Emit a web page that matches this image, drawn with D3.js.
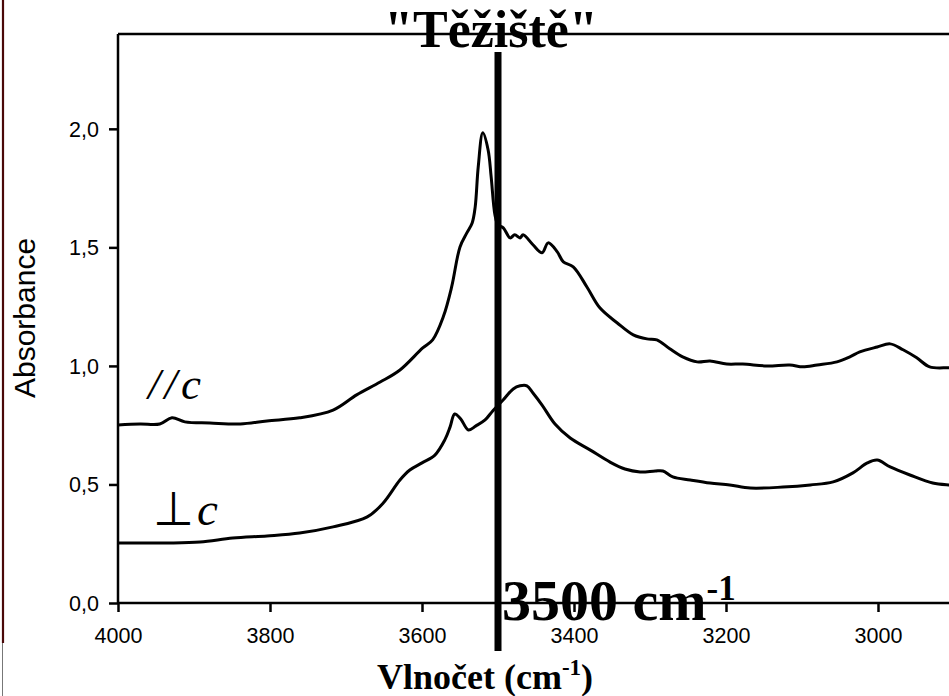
<!DOCTYPE html>
<html>
<head>
<meta charset="utf-8">
<script src="https://cdn.jsdelivr.net/npm/d3@7"></script>
<style>
  html, body { margin: 0; padding: 0; background: #fff; }
  svg { display: block; }
</style>
</head>
<body>
<svg id="chart" width="949" height="696"></svg>
<script>
// IR absorbance spectra of the OH-stretching region, polarised parallel and perpendicular to c
const wavenumberPar = [4000, 3971, 3945, 3929, 3912, 3879, 3839, 3804, 3761, 3717, 3686, 3655, 3629, 3599, 3586, 3572, 3561, 3550, 3541, 3534, 3530, 3526, 3520, 3513, 3509, 3504, 3500, 3493, 3484, 3478, 3471, 3467, 3454, 3442, 3434, 3422, 3414, 3401, 3383, 3366, 3343, 3322, 3304, 3291, 3274, 3257, 3238, 3221, 3199, 3178, 3146, 3116, 3099, 3080, 3054, 3037, 3024, 3001, 2984, 2967, 2949, 2932, 2907, 2900];
const absorbancePar = [0.751, 0.755, 0.755, 0.781, 0.764, 0.759, 0.755, 0.768, 0.781, 0.814, 0.878, 0.932, 0.983, 1.076, 1.110, 1.207, 1.333, 1.502, 1.561, 1.603, 1.671, 1.840, 1.983, 1.911, 1.797, 1.637, 1.595, 1.582, 1.540, 1.553, 1.540, 1.553, 1.511, 1.477, 1.519, 1.481, 1.439, 1.418, 1.333, 1.245, 1.181, 1.131, 1.114, 1.110, 1.072, 1.038, 1.017, 1.021, 1.008, 1.008, 1.000, 1.004, 0.996, 1.004, 1.017, 1.038, 1.059, 1.080, 1.093, 1.068, 1.034, 0.996, 0.992, 0.990];

const wavenumberPerp = [4000, 3936, 3892, 3849, 3804, 3761, 3717, 3672, 3651, 3629, 3616, 3600, 3583, 3570, 3563, 3557, 3549, 3539, 3529, 3517, 3507, 3493, 3480, 3471, 3462, 3454, 3442, 3425, 3405, 3379, 3353, 3333, 3313, 3293, 3283, 3270, 3247, 3221, 3195, 3168, 3125, 3089, 3059, 3033, 3014, 3001, 2984, 2958, 2928, 2907, 2900];
const absorbancePerp = [0.253, 0.253, 0.257, 0.274, 0.283, 0.295, 0.321, 0.363, 0.422, 0.519, 0.561, 0.591, 0.624, 0.688, 0.743, 0.797, 0.776, 0.730, 0.747, 0.772, 0.810, 0.857, 0.903, 0.916, 0.916, 0.886, 0.835, 0.755, 0.696, 0.646, 0.595, 0.565, 0.553, 0.557, 0.557, 0.532, 0.519, 0.506, 0.498, 0.485, 0.489, 0.498, 0.511, 0.549, 0.591, 0.603, 0.574, 0.540, 0.506, 0.498, 0.497];

const xTickValues = [4000, 3800, 3600, 3400, 3200, 3000];
const yTickValues = [0, 0.5, 1.0, 1.5, 2.0];
const yTickLabels = ["0,0", "0,5", "1,0", "1,5", "2,0"];
const centroidWavenumber = 3500;

const svg = d3.select("#chart");
const plot = { left: 118, right: 954, top: 34, bottom: 603 };

const x = d3.scaleLinear().domain([4000, 2900]).range([plot.left, plot.right]);
const y = d3.scaleLinear().domain([0, 2.4]).range([plot.bottom, plot.top]);

// page edge rule on the left
svg.append("line").attr("x1", 3).attr("x2", 3).attr("y1", 0).attr("y2", 643)
  .attr("stroke", "#4a0808").attr("stroke-width", 2.2);
svg.append("line").attr("x1", 2.5).attr("x2", 2.5).attr("y1", 643).attr("y2", 696)
  .attr("stroke", "#777").attr("stroke-width", 1);

// top frame line
svg.append("line").attr("x1", plot.left).attr("x2", plot.right)
  .attr("y1", plot.top).attr("y2", plot.top)
  .attr("stroke", "#000").attr("stroke-width", 2.5);

// axes
const xAxis = d3.axisBottom(x).tickValues(xTickValues).tickSize(9).tickSizeOuter(0).tickFormat(d3.format("d"));
const yAxis = d3.axisLeft(y).tickValues(yTickValues).tickSize(9).tickSizeOuter(0)
  .tickFormat((d, i) => yTickLabels[i]);

const gx = svg.append("g").attr("transform", `translate(0,${plot.bottom})`).call(xAxis);
const gy = svg.append("g").attr("transform", `translate(${plot.left},0)`).call(yAxis);

[gx, gy].forEach(g => {
  g.select(".domain").attr("stroke", "#000").attr("stroke-width", 2.5);
  g.selectAll(".tick line").attr("stroke", "#000").attr("stroke-width", 2.5);
  g.selectAll(".tick text").attr("fill", "#000")
    .style("font-family", "'Liberation Sans', Arial, sans-serif").style("font-size", "21.5px");
});
gx.select(".domain").attr("d", `M${plot.left},0H${plot.right}`);
gy.select(".domain").attr("d", `M0,${plot.bottom}V${plot.top}`);
gx.selectAll(".tick text").attr("dy", "0").attr("y", 40);
gy.selectAll(".tick text").attr("x", -19).attr("dy", "0.35em");

// spectra
const line = d3.line().x(d => x(d[0])).y(d => y(d[1])).curve(d3.curveCatmullRom.alpha(0.5));
const seriesPar = d3.zip(wavenumberPar, absorbancePar);
const seriesPerp = d3.zip(wavenumberPerp, absorbancePerp);

svg.append("path").datum(seriesPar).attr("d", line)
  .attr("fill", "none").attr("stroke", "#000").attr("stroke-width", 3).attr("stroke-linejoin", "round");
svg.append("path").datum(seriesPerp).attr("d", line)
  .attr("fill", "none").attr("stroke", "#000").attr("stroke-width", 3).attr("stroke-linejoin", "round");

// centroid marker
svg.append("line")
  .attr("x1", x(centroidWavenumber)).attr("x2", x(centroidWavenumber))
  .attr("y1", 52).attr("y2", 651)
  .attr("stroke", "#000").attr("stroke-width", 7);

const serif = "'Liberation Serif', 'Times New Roman', serif";

svg.append("text")
  .attr("x", 491).attr("y", 47).attr("text-anchor", "middle")
  .style("font-family", serif).style("font-weight", "bold").style("font-size", "52px")
  .text("\"Těžiště\"");

const lbl = svg.append("text")
  .attr("x", 502).attr("y", 620)
  .style("font-family", serif).style("font-weight", "bold").style("font-size", "58px");
lbl.append("tspan").text(`${centroidWavenumber} cm`);
lbl.append("tspan").attr("dy", -20).style("font-size", "35px").text("-1");

// axis titles
const xt = svg.append("text")
  .attr("x", 485).attr("y", 689).attr("text-anchor", "middle")
  .style("font-family", serif).style("font-weight", "bold").style("font-size", "36px");
xt.append("tspan").text("Vlnočet (cm");
xt.append("tspan").attr("dy", -14).style("font-size", "23px").text("-1");
xt.append("tspan").attr("dy", 14).text(")");

svg.append("text")
  .attr("transform", "translate(35,318) rotate(-90)")
  .attr("text-anchor", "middle")
  .style("font-family", "'Liberation Sans', Arial, sans-serif").style("font-size", "30px")
  .text("Absorbance");

// series labels
svg.append("text").attr("x", 148).attr("y", 399)
  .style("font-family", serif).style("font-style", "italic").style("font-size", "45px")
  .style("letter-spacing", "4px")
  .text("//c");
const perp = svg.append("text").attr("x", 153).attr("y", 525)
  .style("font-family", serif).style("font-size", "47px");
perp.append("tspan").text("⊥");
perp.append("tspan").attr("dx", 3).style("font-style", "italic").style("font-size", "47px").text("c");
</script>
</body>
</html>
